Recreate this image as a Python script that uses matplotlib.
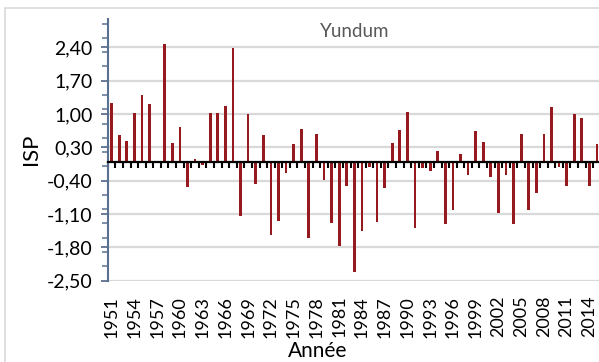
import matplotlib
matplotlib.use("Agg")
import matplotlib.pyplot as plt
import numpy as np
from matplotlib.patches import Rectangle

# Indice standardisé de précipitation, station de Yundum
years = list(range(1951, 2016))
isp = [
    1.24, 0.56, 0.43, 1.03, 1.40, 1.22, 0.00, 2.48, 0.40, 0.73,
    -0.54, 0.05, -0.07, 1.03, 1.03, 1.17, 2.38, -1.14, 0.99, -0.47,
    0.56, -1.54, -1.25, -0.23, 0.37, 0.68, -1.61, 0.57, -0.39, -1.30,
    -1.78, -0.51, -2.32, -1.45, -0.12, -1.27, -0.55, 0.40, 0.66, 1.05,
    -1.39, -0.14, -0.20, 0.23, -1.32, -1.02, 0.16, -0.29, 0.65, 0.41,
    -0.32, -1.08, -0.29, -1.31, 0.59, -1.02, -0.66, 0.57, 1.14, -0.12,
    -0.51, 0.99, 0.92, -0.52, 0.38,
]
label_years = list(range(1951, 2015, 3))
y_ticks = [-2.50, -1.80, -1.10, -0.40, 0.30, 1.00, 1.70, 2.40]

plt.rcParams['font.family'] = ['Lato', 'DejaVu Sans']

fig = plt.figure(figsize=(5.99, 3.62), dpi=100)
ax = fig.add_axes([0.180, 0.225, 0.823, 0.723])

ax.bar(years, isp, width=0.36, color='#961A1D', zorder=3)

ax.set_xlim(1950.5, 2015.5)
ax.set_ylim(-2.5, 3.0)

# axe vertical
ax.set_yticks(y_ticks)
ax.set_yticklabels([f"{v:.2f}".replace('.', ',') for v in y_ticks], fontsize=14)
ax.set_yticks(np.arange(-2.5, 3.0, 0.3), minor=True)
ax.tick_params(axis='y', which='major', length=5, width=1.3, color='#5A7090', pad=6)
ax.tick_params(axis='y', which='minor', length=4, width=1.1, color='#5A7090')
ax.grid(axis='y', color='#D9D9D9', linewidth=1.6, zorder=0)
ax.set_axisbelow(True)

for side in ['top', 'right']:
    ax.spines[side].set_visible(False)
ax.spines['left'].set_color('#5A7090')
ax.spines['left'].set_linewidth(1.5)

# axe des catégories placé sur zéro
ax.spines['bottom'].set_position(('data', 0))
ax.spines['bottom'].set_color('black')
ax.spines['bottom'].set_linewidth(1.6)
ax.spines['bottom'].set_zorder(4)
ax.set_xticks(np.arange(1950.5, 2016, 1.0))
ax.set_xticklabels([])
ax.tick_params(axis='x', which='major', direction='out', length=4, width=1.5, color='black')

# étiquettes des années en bas
sec = ax.secondary_xaxis('bottom')
sec.set_xticks(label_years)
sec.set_xticklabels([str(y) for y in label_years], rotation=90, fontsize=13)
sec.tick_params(axis='x', length=0, pad=11)
sec.spines['bottom'].set_visible(False)

ax.set_ylabel('ISP', fontsize=16, labelpad=4)
fig.text(0.531, 0.030, 'Année', ha='center', va='center', fontsize=15)
ax.text(0.5, 0.985, 'Yundum', transform=ax.transAxes, ha='center', va='top',
        fontsize=13.5, color='#595959')

# cadre du graphique
fig.patches.append(Rectangle((5 / 599, -0.1), 1.2, 1.1 - 8 / 362,
                             transform=fig.transFigure, fill=False,
                             edgecolor='#D9D9D9', linewidth=1.2))

fig.savefig('out.png', dpi=100)
